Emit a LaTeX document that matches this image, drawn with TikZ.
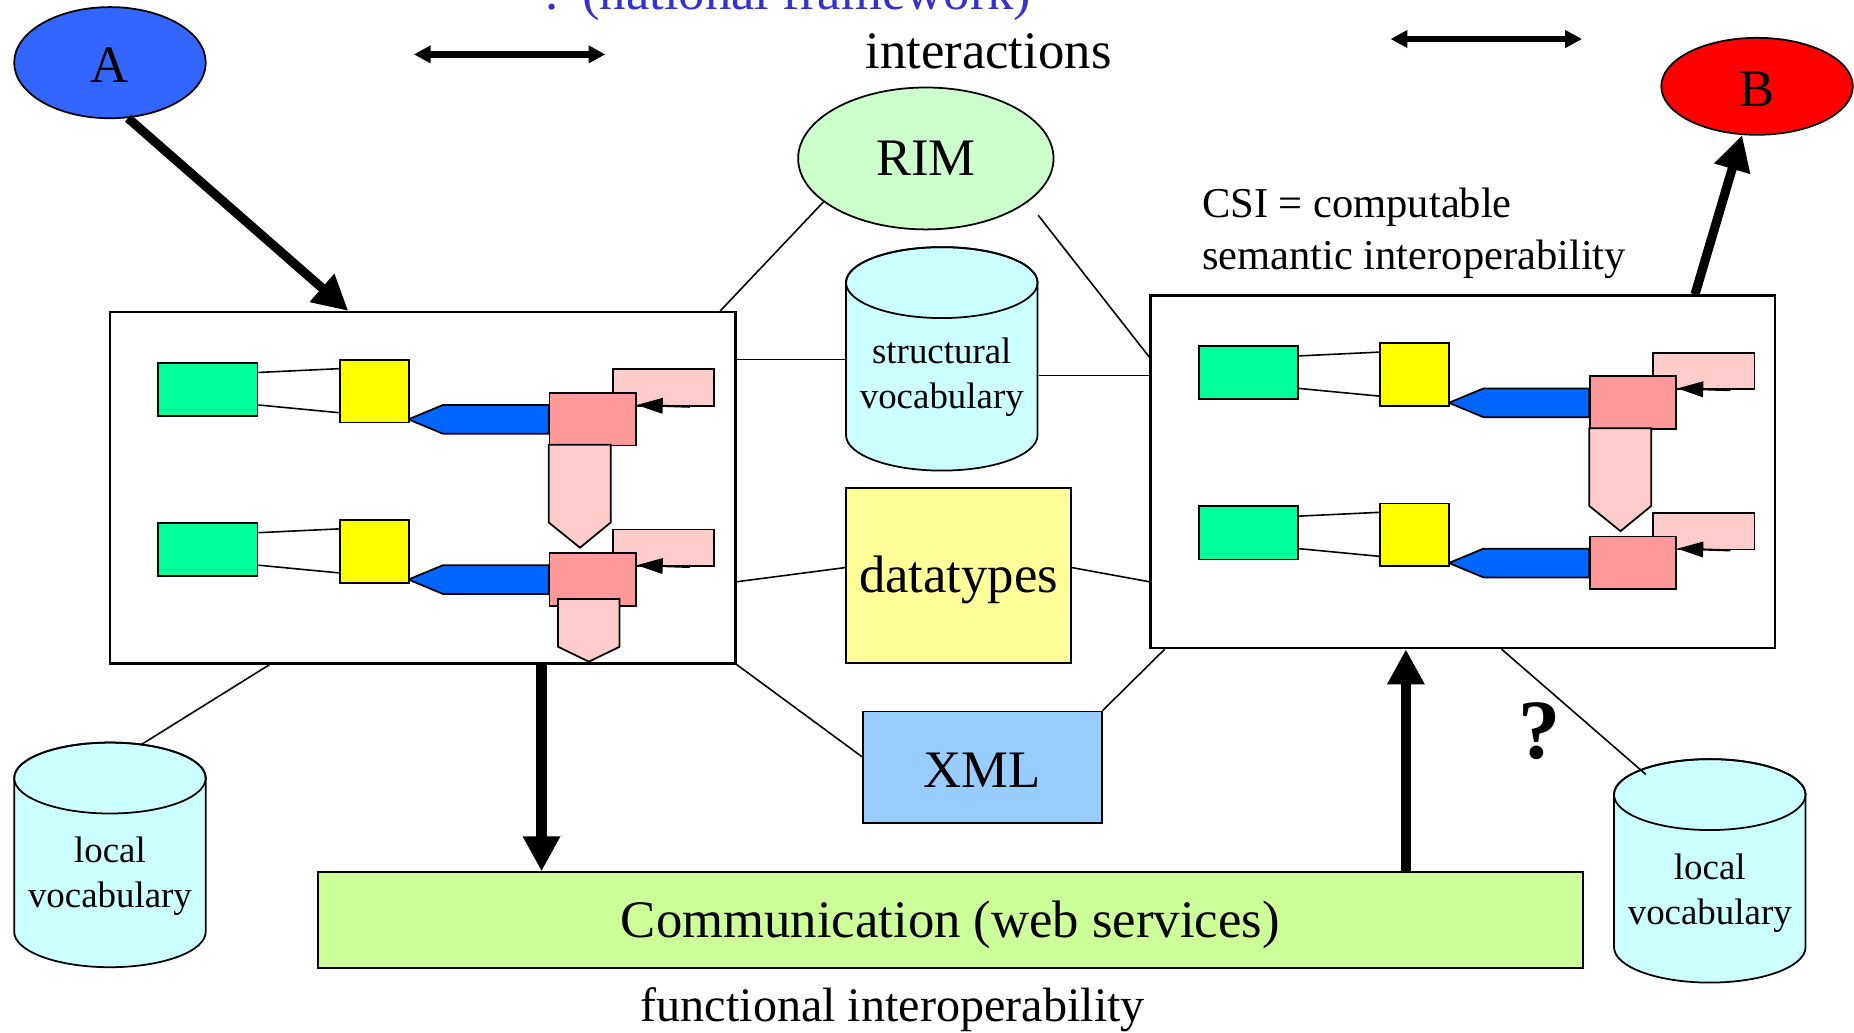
\documentclass[tikz,border=0pt]{standalone}
\usepackage{fontspec}
\setmainfont{Liberation Serif}
\usetikzlibrary{arrows.meta,shapes.geometric,calc}

\definecolor{clrA}{HTML}{3366FF}
\definecolor{clrB}{HTML}{FF0000}
\definecolor{rimfill}{HTML}{CCFFCC}
\definecolor{cylfill}{HTML}{CCFFFF}
\definecolor{dtfill}{HTML}{FFFF99}
\definecolor{xmlfill}{HTML}{99CCFF}
\definecolor{commfill}{HTML}{CCFF99}
\definecolor{greenfill}{HTML}{00FF99}
\definecolor{yellowfill}{HTML}{FFFF00}
\definecolor{bluefill}{HTML}{0066FF}
\definecolor{salmonfill}{HTML}{FF9999}
\definecolor{pinkfill}{HTML}{FFCCCC}
\definecolor{natblue}{HTML}{3333CC}

% drawing unit
\newdimen\uu \uu=0.011824cm

\tikzset{
  box/.style={draw, line width=0.7pt, inner sep=0pt},
  shp/.style={draw, line width=0.5pt, inner sep=0pt},
  link/.style={line width=0.45pt},
  boxat/.style 2 args={minimum width=#1*\uu, minimum height=#2*\uu, anchor=north west},
  bigarrow/.style={line width=3pt, -{Triangle[length=10pt, width=10pt]}},
  dblarrow/.style={line width=1.8pt, {Triangle[length=4.8pt,width=4.8pt]}-{Triangle[length=4.8pt,width=4.8pt]}},
  tinyarrow/.style={line width=0.6pt, -{Triangle[length=7.4pt,width=4.4pt]}},
  lbl/.style={font=\fontsize{15}{18}\selectfont},
  cyltext/.style={font=\fontsize{10.5}{12.8}\selectfont, align=center, inner sep=0pt},
  % one mapping module: two rows of terms, codes and value sets
  module/.pic={
    \foreach \dy/\rw in {0/1,135.5/2}{
      \node[shp, fill=pinkfill, boxat={85.6}{31}] (-p\rw) at (425.4,48.5+\dy) {};
      \draw[shp, fill=bluefill] (372,79.5+\dy) -- (282.6,79.5+\dy) -- (253.4,91.65+\dy)
        -- (282.6,103.8+\dy) -- (372,103.8+\dy) -- cycle;
      \node[shp, fill=greenfill, boxat={84}{45}] (-g\rw) at (41,43+\dy) {};
      \node[shp, fill=yellowfill, boxat={58.5}{53}] (-y\rw) at (194.5,40.5+\dy) {};
      \draw[link] ($(-g\rw.north east)+(0,9)$) -- ($(-y\rw.north west)+(0,8.3)$);
      \draw[link] ($(-g\rw.north east)+(0,36.5)$) -- ($(-y\rw.north west)+(0,45.5)$);
      \node[shp, fill=salmonfill, boxat={73}{44.6}] (-s\rw) at (372,68.5+\dy) {};
      \draw[tinyarrow] ($(-p\rw.south east)+(-21,0)$) -- ($(-s\rw.north east)+(0,11)$);
    }
    \draw[shp, fill=pinkfill] (372,113.1) -- (424.6,113.1) -- (424.6,178.8)
      -- (398.5,200.2) -- (372,178.8) -- cycle;
  }
}

% cylinder: centre x, top y, bottom y, name
\newcommand\drawcylinder[4]{%
  \path[fill=cylfill, draw, line width=0.5pt] (#1-81,#2+30) -- (#1-81,#3-30)
    arc[start angle=180, end angle=0, x radius=81, y radius=30] -- (#1+81,#2+30)
    arc[start angle=0, end angle=-180, x radius=81, y radius=30] -- cycle;
  \draw[line width=0.5pt] (#1,#2+30) ellipse[x radius=81, y radius=30];
  \node[inner sep=0pt, boxat={162}{(#3-#2)}] (#4) at (#1-81,#2) {};
}

\begin{document}
\begin{tikzpicture}[x=0.011824cm, y=-0.011824cm]
\useasboundingbox (0,0) rectangle (1568,873);

% systems A and B
\node[ellipse, draw, line width=0.5pt, fill=clrA, minimum width=162*\uu, minimum height=94*\uu, inner sep=0pt] (A) at (93,53) {};
\node[lbl, anchor=base, inner sep=0pt] (Atext) at (93,70) {A};
\node[ellipse, draw, line width=0.5pt, fill=clrB, minimum width=162*\uu, minimum height=82*\uu, inner sep=0pt] (B) at (1486,73) {};
\node[lbl, anchor=base, inner sep=0pt] (Btext) at (1486,90) {B};

% shared artefacts
\node[ellipse, draw, line width=0.5pt, fill=rimfill, minimum width=216*\uu, minimum height=120*\uu, inner sep=0pt, lbl] (rim) at (783,134) {RIM};
\drawcylinder{796.5}{209}{398}{sv}
\node[cyltext] (svtext) at (796.5,319) {structural\\vocabulary};
\node[shp, fill=dtfill, boxat={190}{148}] (dt) at (715,412) {};
\node[lbl, anchor=base, inner sep=0pt] (dttext) at (dt.center |- 0,501) {datatypes};
\node[shp, fill=xmlfill, boxat={202}{94}] (xml) at (729,601) {};
\node[lbl, anchor=base, inner sep=0pt] (xmltext) at (xml.center |- 0,666) {XML};
\node[shp, fill=commfill, boxat={1070}{81}] (comm) at (268,737) {};
\node[lbl, anchor=base, inner sep=0pt] (commtext) at (comm.center |- 0,793) {Communication (web services)};

% local vocabularies
\drawcylinder{93}{628}{818}{lv}
\node[cyltext] (lvtext) at (93,741) {local\\vocabulary};
\drawcylinder{1446}{642}{831}{rv}
\node[cyltext] (rvtext) at (1446,755) {local\\vocabulary};

% the two applications
\node[box, fill=white, boxat={529}{297}] (lbox) at (92,263) {};
\node[box, fill=white, boxat={528}{298}] (rbox) at (972,249) {};
\pic (L) at (92,263) {module};
\pic (R) at (972,249) {module};
\draw[shp, fill=pinkfill] (472,506.6) -- (524,506.6) -- (524,547) -- (498,559.6) -- (472,547) -- cycle;

% thin links
\draw[link] (rim.203) -- ($(lbox.north east)+(-14,0)$);
\draw[link] ($(rim.center)+(95,48)$) -- ($(rbox.north west)+(0,53)$);
\draw[link] (lbox.east |- sv.west) -- (sv.west);
\coordinate (svR) at ($(sv.east)+(0,13.5)$);
\draw[link] (svR) -- (svR -| rbox.west);
\draw[link] ($(lbox.north east)+(0,229)$) -- ($(dt.north west)+(0,68)$);
\draw[link] ($(dt.north east)+(0,68)$) -- ($(rbox.north west)+(0,243)$);
\draw[link] (lbox.south east) -- ($(xml.north west)+(0,39)$);
\draw[link] (xml.north east) -- ($(rbox.south west)+(13,0)$);
\draw[link] ($(lbox.south west)+(136,0)$) -- ($(lv.north west)+(107,2)$);
\draw[link] ($(rbox.south west)+(298,0)$) -- ($(rv.north west)+(27,13)$);

% heavy arrows
\draw[bigarrow, line width=2.6pt] (A.-72) -- ($(lbox.north west)+(202.6,0)$);
\draw[bigarrow, line width=2.6pt] ($(rbox.north west)+(461.5,0)$) -- (B.253);
\coordinate (dn) at ($(lbox.south west)+(366,0)$);
\draw[bigarrow] (dn) -- (dn |- comm.north);
\coordinate (up) at ($(rbox.south west)+(217,0)$);
\draw[bigarrow] (up |- comm.north) -- (up);

% interaction arrows
\coordinate (i1) at (350,46);
\coordinate (i2) at (512,46);
\coordinate (i3) at (1176,33);
\coordinate (i4) at (1338,33);
\draw[dblarrow] (i1) -- (i2);
\draw[dblarrow] (i3) -- (i4);

% captions
\node[lbl, text=natblue, anchor=base, inner sep=0pt] (natl) at (665,8) {? (national framework)};
\node[lbl, anchor=base, inner sep=0pt] (inter) at (836,58) {interactions};
\node[font=\fontsize{12.1}{14}\selectfont, anchor=base west, inner sep=0pt] (csi1) at (1016,184) {CSI = computable};
\node[font=\fontsize{12.1}{14}\selectfont, anchor=base west, inner sep=0pt] (csi2) at (1016,228) {semantic interoperability};
\node[font=\fontsize{13.7}{16}\selectfont, anchor=base, inner sep=0pt] (func) at (755,864) {functional interoperability};
\node[font=\fontsize{24}{28}\selectfont\bfseries, inner sep=0pt] (qm) at (1302,618) {?};
\end{tikzpicture}
\end{document}
